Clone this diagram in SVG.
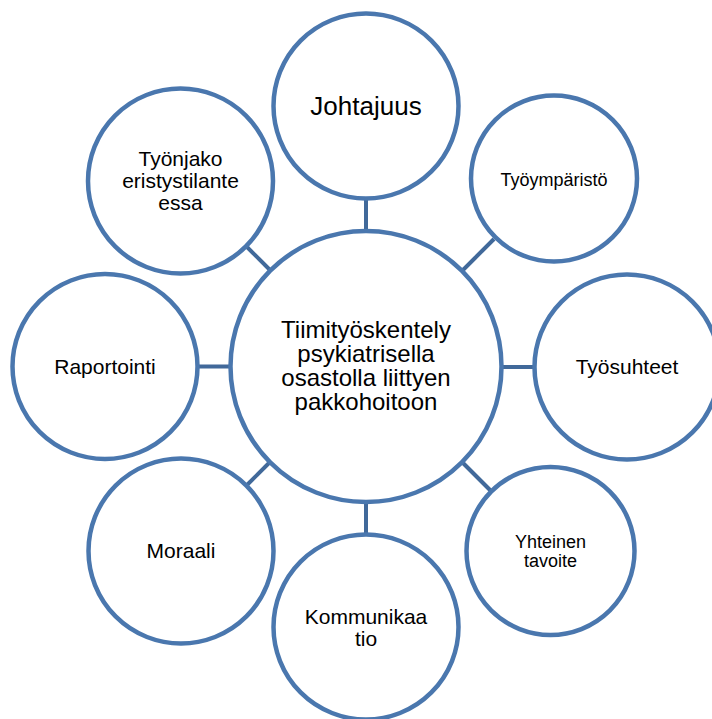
<svg xmlns="http://www.w3.org/2000/svg" width="712" height="719" viewBox="0 0 712 719">
<style>
.c{fill:#ffffff;stroke:#4a77ae;stroke-width:4.5}
.l{stroke:#41699a;stroke-width:4;fill:none}
text{font-family:"Liberation Sans",Arial,sans-serif;fill:#000;text-anchor:middle}
.t21{font-size:21px}
.t18{font-size:18px}
</style>
<rect width="712" height="719" fill="#ffffff"/>
<g id="connectors">
<line class="l" x1="366" y1="198" x2="366" y2="233"/>
<line class="l" x1="198" y1="366.5" x2="232" y2="366.5"/>
<line class="l" x1="500" y1="367" x2="535" y2="367"/>
<line class="l" x1="366" y1="500" x2="366" y2="535"/>
<line class="l" x1="245" y1="245" x2="272" y2="272"/>
<line class="l" x1="494" y1="239" x2="460" y2="273"/>
<line class="l" x1="492" y1="492" x2="460" y2="460"/>
<line class="l" x1="245" y1="487" x2="272" y2="460"/>
</g>
<g id="center">
<circle class="c" cx="366" cy="366.5" r="135.5"/>
<text style="font-size:24px"><tspan x="366" y="338">Tiimityöskentely</tspan><tspan x="366" y="362">psykiatrisella</tspan><tspan x="366" y="386">osastolla liittyen</tspan><tspan x="366" y="410">pakkohoitoon</tspan></text>
</g>
<g id="johtajuus">
<circle class="c" cx="366" cy="106" r="92.5"/>
<text x="366" y="115" style="font-size:26px">Johtajuus</text>
</g>
<g id="tyoymparisto">
<circle class="c" cx="554" cy="178.5" r="83"/>
<text class="t18" x="554" y="186">Työympäristö</text>
</g>
<g id="tyosuhteet">
<circle class="c" cx="627" cy="367" r="92.5"/>
<text class="t21" x="627" y="374">Työsuhteet</text>
</g>
<g id="yhteinen">
<circle class="c" cx="550.5" cy="551" r="84"/>
<text class="t18"><tspan x="550.5" y="548">Yhteinen</tspan><tspan x="550.5" y="567">tavoite</tspan></text>
</g>
<g id="kommunikaatio">
<circle class="c" cx="366" cy="627" r="92.5"/>
<text class="t21"><tspan x="366" y="624">Kommunikaa</tspan><tspan x="366" y="646">tio</tspan></text>
</g>
<g id="moraali">
<circle class="c" cx="181" cy="551" r="92.5"/>
<text class="t21" x="181" y="558">Moraali</text>
</g>
<g id="raportointi">
<circle class="c" cx="105" cy="366.5" r="92.5"/>
<text class="t21" x="105" y="374">Raportointi</text>
</g>
<g id="tyonjako">
<circle class="c" cx="180.5" cy="181" r="92.5"/>
<text class="t21"><tspan x="180.5" y="166">Työnjako</tspan><tspan x="180.5" y="188">eristystilante</tspan><tspan x="180.5" y="210">essa</tspan></text>
</g>
</svg>
